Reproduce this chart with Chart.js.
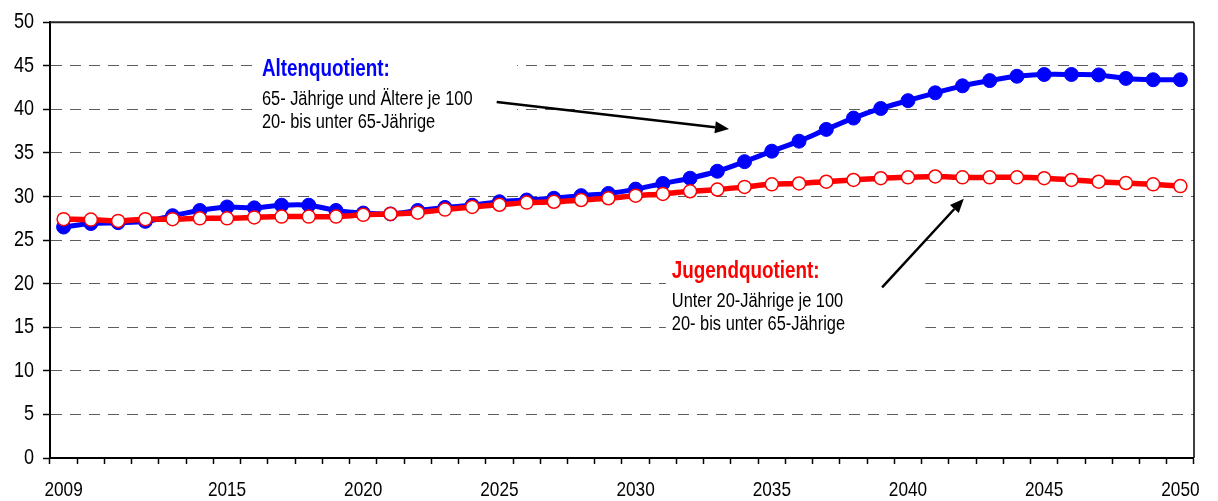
<!DOCTYPE html>
<html>
<head>
<meta charset="utf-8">
<script src="https://cdn.jsdelivr.net/npm/chart.js@4/dist/chart.umd.min.js"></script>
<style>
html,body{margin:0;padding:0;background:#fff;}
#wrap{position:relative;width:1218px;height:501px;}
</style>
</head>
<body>
<div id="wrap"><canvas id="c" width="1218" height="501"></canvas></div>
<script>
// ---- data ----
const years = [2009,2010,2011,2012,2013,2014,2015,2016,2017,2018,
               2019,2020,2021,2022,2023,2024,2025,2026,2027,2028,
               2029,2030,2031,2032,2033,2034,2035,2036,2037,2038,
               2039,2040,2041,2042,2043,2044,2045,2046,2047,2048,
               2049,2050];
const altenquotient = [26.5,26.9,27.0,27.15,27.8,28.4,28.8,28.7,29.0,29.0,
                       28.4,28.1,28.0,28.4,28.75,29.0,29.4,29.6,29.8,30.1,
                       30.35,30.85,31.5,32.1,32.9,34.0,35.2,36.35,37.7,39.0,
                       40.1,41.0,41.9,42.7,43.3,43.8,44.0,44.0,43.95,43.55,
                       43.4,43.4];
const jugendquotient = [27.4,27.35,27.2,27.4,27.4,27.5,27.5,27.6,27.7,27.7,
                        27.7,27.9,28.0,28.15,28.5,28.8,29.05,29.3,29.4,29.6,
                        29.8,30.1,30.3,30.6,30.8,31.1,31.4,31.5,31.7,31.9,
                        32.1,32.2,32.3,32.2,32.2,32.2,32.1,31.9,31.7,31.55,
                        31.4,31.2];
const shownYearLabels = [2009,2015,2020,2025,2030,2035,2040,2045,2050];
const yTicks = [0,5,10,15,20,25,30,35,40,45,50];

const altenTitle = 'Altenquotient:';
const altenLines = ['65- Jährige und Ältere je 100','20- bis unter 65-Jährige'];
const jugendTitle = 'Jugendquotient:';
const jugendLines = ['Unter 20-Jährige je 100','20- bis unter 65-Jährige'];

const FONT = '"Liberation Sans",Arial,sans-serif';
const CONDENSE = 0.82; // emulate a narrow face by horizontal compression

// annotation anchors in data units (category index, value)
const notes = [
  {title: altenTitle, lines: altenLines, color:'#0000FF', at:[7.28, 43.8],
   box:[7.02, 46.6, 16.65, 36.8],
   arrow:[[15.9,40.85],[24.43,37.76]]},
  {title: jugendTitle, lines: jugendLines, color:'#FF0000', at:[22.33, 20.6],
   box:[22.11, 23.2, 31.64, 14.2],
   arrow:[[30.05,19.57],[33.05,29.75]]}
];

// condensed text drawing on this canvas
const canvas = document.getElementById('c');
const ctx2d = canvas.getContext('2d');
const origFillText = ctx2d.fillText.bind(ctx2d);
ctx2d.fillText = function(t, x, y){
  this.save();
  this.translate(x, y);
  this.scale(CONDENSE, 1);
  origFillText(t, 0, 0);
  this.restore();
};

const annotPlugin = {
  id:'annot',
  beforeDatasetsDraw(chart){
    const {ctx, scales:{x,y}, chartArea:a} = chart;
    ctx.save();
    // frame: top and right
    ctx.strokeStyle = '#222'; ctx.lineWidth = 2;
    ctx.beginPath(); ctx.moveTo(a.left, a.top); ctx.lineTo(a.right, a.top); ctx.stroke();
    ctx.strokeStyle = '#000'; ctx.lineWidth = 1.5;
    ctx.beginPath(); ctx.moveTo(a.right, a.top); ctx.lineTo(a.right, a.bottom); ctx.stroke();
    notes.forEach(n=>{
      const bx0 = x.getPixelForValue(n.box[0]), by0 = y.getPixelForValue(n.box[1]);
      const bx1 = x.getPixelForValue(n.box[2]), by1 = y.getPixelForValue(n.box[3]);
      ctx.fillStyle = '#fff';
      ctx.fillRect(bx0, by0, bx1-bx0, by1-by0);
      const tx = x.getPixelForValue(n.at[0]);
      const ty = y.getPixelForValue(n.at[1]);
      ctx.textAlign = 'left'; ctx.textBaseline = 'alphabetic';
      ctx.fillStyle = n.color;
      ctx.font = 'bold 23px ' + FONT;
      ctx.fillText(n.title, tx, ty);
      ctx.fillStyle = '#000';
      ctx.font = '20px ' + FONT;
      n.lines.forEach((l,i)=>ctx.fillText(l, tx, ty + 28.5 + i*23.5));
      // arrow
      const x0 = x.getPixelForValue(n.arrow[0][0]), y0 = y.getPixelForValue(n.arrow[0][1]);
      const x1 = x.getPixelForValue(n.arrow[1][0]), y1 = y.getPixelForValue(n.arrow[1][1]);
      const ang = Math.atan2(y1-y0, x1-x0);
      const hl = 14, hw = 6;
      const bxp = x1 - hl*Math.cos(ang), byp = y1 - hl*Math.sin(ang);
      ctx.strokeStyle = '#000'; ctx.lineWidth = 2.5;
      ctx.beginPath(); ctx.moveTo(x0,y0); ctx.lineTo(bxp,byp); ctx.stroke();
      ctx.fillStyle = '#000';
      ctx.beginPath();
      ctx.moveTo(x1,y1);
      ctx.lineTo(bxp + hw*Math.sin(ang), byp - hw*Math.cos(ang));
      ctx.lineTo(bxp - hw*Math.sin(ang), byp + hw*Math.cos(ang));
      ctx.closePath(); ctx.fill();
    });
    ctx.restore();
  }
};

new Chart(canvas, {
  type:'line',
  data:{
    labels: years,
    datasets:[
      {label:'Jugendquotient', data: jugendquotient, order:0,
       borderColor:'#FF0000', borderWidth:5.5, tension:0.35,
       pointRadius:6.5, pointBackgroundColor:'#FFFFFF', pointBorderColor:'#FF0000', pointBorderWidth:1.5},
      {label:'Altenquotient', data: altenquotient, order:1,
       borderColor:'#0000FF', borderWidth:5, tension:0.35,
       pointRadius:7, pointBackgroundColor:'#0000FF', pointBorderColor:'#0000FF', pointBorderWidth:1}
    ]
  },
  options:{
    responsive:false, animation:false,
    layout:{padding:{top:21,right:22,left:0,bottom:0}},
    plugins:{legend:{display:false}, tooltip:{enabled:false}},
    scales:{
      x:{
        type:'category', offset:true,
        afterFit(s){ s.height = 43; },
        grid:{display:true, drawOnChartArea:false, offset:true, tickLength:6, tickColor:'#000', tickWidth:1.5},
        border:{color:'#000', width:2},
        ticks:{autoSkip:false, maxRotation:0, minRotation:0, padding:14, color:'#000',
               font:{family:FONT, size:21},
               callback(v){ const yr = years[v]; return shownYearLabels.includes(yr) ? String(yr) : ''; }}
      },
      y:{
        min:0, max:50,
        afterFit(s){ s.width = 50; },
        afterBuildTicks(s){ s.ticks = yTicks.map(v=>({value:v})); },
        grid:{color:(c)=> (c.tick && (c.tick.value===0 || c.tick.value===50)) ? 'rgba(0,0,0,0)' : '#5e5e5e',
              lineWidth:1, tickLength:7, tickColor:'#000', tickWidth:1.5, tickBorderDash:[]},
        border:{color:'#000', width:2, dash:[11,8]},
        ticks:{padding:9, color:'#000', font:{family:FONT, size:22}}
      }
    }
  },
  plugins:[annotPlugin]
});
</script>
</body>
</html>
